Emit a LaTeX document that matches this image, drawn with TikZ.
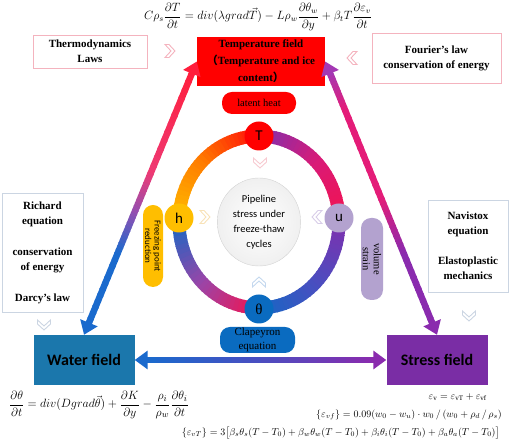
\documentclass[tikz,border=0pt]{standalone}
\usepackage{fontspec}
\setmainfont{Liberation Serif}
\setsansfont{Carlito}
\newfontfamily\cjk{Noto Sans CJK SC}
\usepackage{amsmath}
\usetikzlibrary{
  positioning,
  arrows.meta,
  calc,
  shapes.geometric
}
\definecolor{tempred}{HTML}{FF0000}
\definecolor{waterblue}{HTML}{1B77AC}
\definecolor{stresspurple}{HTML}{7A2DA5}
\definecolor{ballgold}{HTML}{FFBE00}
\definecolor{balllilac}{HTML}{B3A2CF}
\definecolor{ballblue}{HTML}{0A6BC0}
\definecolor{lawpink}{HTML}{F4B3BE}
\definecolor{lawgrey}{HTML}{CBD5E2}
\definecolor{ringred}{HTML}{FF0A0A}
\definecolor{ringorange}{HTML}{FF7A00}
\definecolor{ringpink}{HTML}{F5124E}
\definecolor{ringmagenta}{HTML}{D81B78}
\definecolor{ringpurple}{HTML}{7E30AE}
\definecolor{ringviolet}{HTML}{9A45A8}
\definecolor{ringindigo}{HTML}{4A4EC0}
\definecolor{ringblue}{HTML}{1668C4}
\definecolor{arrowred}{HTML}{FF1E3C}
\definecolor{arrowpink}{HTML}{EE3A74}
\definecolor{arrowviolet}{HTML}{9250B2}
\definecolor{arrowblue}{HTML}{1A6ACD}
\definecolor{arrowmagenta}{HTML}{E41C78}
\definecolor{arrowplum}{HTML}{A438B4}
\definecolor{arrowpurple}{HTML}{8A2BAE}
\definecolor{hintyellow}{HTML}{F8E2B8}
\definecolor{hintlilac}{HTML}{D8CDE8}
\definecolor{hintblue}{HTML}{C4D8EE}

% shaft of a colour-graded arrow: from, to, width, stops
\newcommand{\gradshaft}[4]{%
  \foreach \s/\e/\ca/\cb in {#4} {
    \foreach \k in {0,...,11} {
      \pgfmathsetmacro\ta{\s+(\e-\s)*\k/12}
      \pgfmathsetmacro\tb{\s+(\e-\s)*(\k+1.25)/12}
      \pgfmathtruncatemacro\p{100-(\k+0.5)*100/12}
      \draw[line width=#3, \ca!\p!\cb] ($(#1)!\ta!(#2)$) -- ($(#1)!\tb!(#2)$);
    }
  }
}

\begin{document}
\begin{tikzpicture}[
  x=1pt, y=1pt,
  lawbox/.style={draw, fill=white, line width=0.8pt, align=center,
                 font=\bfseries\fontsize{11}{15}\selectfont},
  fieldbox/.style={minimum width=101, minimum height=50, inner sep=0pt,
                   font=\sffamily\bfseries\fontsize{16}{16}\selectfont},
  ball/.style={circle, minimum size=29, inner sep=0pt,
               font=\sffamily\fontsize{15}{15}\selectfont},
  pill/.style={rounded corners=10pt, inner sep=0pt, align=center},
  bigtip/.style={line width=6pt, -{Triangle[length=13pt,width=18pt]}},
  chev/.pic={\draw[line width=0.9pt, line join=miter]
     (-5,6.5) -- (-1,6.5) -- (5,0) -- (-1,-6.5) -- (-5,-6.5) -- (1,0) -- cycle;},
]
  \useasboundingbox (0,0) rectangle (512,444);

  % ring
  \coordinate (ring) at (259,222);
  \foreach \sa/\ea/\ca/\cb in {0/45/ringpink/ringmagenta, 45/90/ringmagenta/ringpurple,
      90/135/ringred/ringorange, 135/180/ringorange/ballgold,
      180/225/ringblue/ringviolet, 225/270/ringviolet/ringpink,
      270/315/ringblue/ringindigo, 315/360/ringindigo/ringpurple} {
    \foreach \k in {0,...,14} {
      \pgfmathsetmacro\aa{\sa+(\ea-\sa)*\k/15}
      \pgfmathsetmacro\ab{\sa+(\ea-\sa)*(\k+1.3)/15}
      \pgfmathtruncatemacro\p{100-(\k+0.5)*100/15}
      \draw[line width=13pt, \ca!\p!\cb] (ring) ++(\aa:80 and 86)
        arc[start angle=\aa, end angle=\ab, x radius=80, y radius=86];
    }
  }
  \node[ellipse, draw=gray!35, inner color=white, outer color=gray!12,
        minimum width=80, minimum height=88, align=center,
        font=\sffamily\fontsize{10.5}{15}\selectfont] (core) at (ring)
        {Pipeline\\stress under\\freeze-thaw\\cycles};

  \node[ball, fill=tempred] (T) at (259,308) {T};
  \node[ball, fill=ballgold] (h) at (179,226) {h};
  \node[ball, fill=balllilac] (u) at (339,226) {u};
  \node[ball, fill=ballblue, font=\fontsize{15}{15}\selectfont] (theta) at (259,135) {θ};

  \node[pill, fill=tempred, minimum width=74, minimum height=22,
        font=\fontsize{10.5}{12}\selectfont] (latent) at (259,341) {latent heat};
  \node[pill, fill=ballgold, rotate=-90, minimum width=82, minimum height=20,
        font=\sffamily\fontsize{9}{9.5}\selectfont] (freeze) at (153,198)
        {Freezing point\\reduction};
  \node[pill, fill=balllilac, rotate=-90, minimum width=82, minimum height=22,
        font=\fontsize{10.5}{11}\selectfont] (volume) at (372,185) {volume\\strain};
  \node[pill, fill=ballblue, minimum width=75, minimum height=26,
        font=\fontsize{11}{14}\selectfont] (clapeyron) at (257.5,104)
        {Clapeyron\\equation};

  % fields
  \node[fill=tempred, minimum width=128, minimum height=49, inner sep=0pt,
        align=center, font=\bfseries\fontsize{11}{17}\selectfont] (temp) at (261,382.5)
        {Temperature field\\{\cjk （}Temperature and ice\\content{\cjk ）}};
  \node[fieldbox, fill=waterblue] (water) at (84,84) {Water field};
  \node[fieldbox, fill=stresspurple] (stress) at (437,84) {Stress field};

  % laws
  \node[lawbox, draw=lawpink, minimum width=114, minimum height=33] (thermo)
        at (90,392.5) {Thermodynamics\\Laws};
  \node[lawbox, draw=lawpink, minimum width=129, minimum height=50] (fourier)
        at (436.5,386) {Fourier's law\\conservation of energy};
  \node[lawbox, draw=lawgrey, minimum width=81, minimum height=119] (richard)
        at (42.5,191.5) {Richard\\equation\\[16pt]conservation\\of energy\\[16pt]Darcy's law};
  \node[lawbox, draw=lawgrey, minimum width=80, minimum height=92] (navistox)
        at (468,198) {Navistox\\equation\\[15pt]Elastoplastic\\mechanics};

  % chevrons
  \pic[color=lawpink] at (170,393) {chev};
  \pic[color=lawpink, rotate=180] at (352,386) {chev};
  \pic[color=lawpink!70, rotate=-90] at (260,281) {chev};
  \pic[color=hintyellow] at (205,227) {chev};
  \pic[color=hintlilac, rotate=180] at (317,227) {chev};
  \pic[color=hintblue, rotate=90] at (259,162) {chev};
  \pic[color=lawgrey, rotate=-90] at (44,119) {chev};
  \pic[color=lawgrey, rotate=-90] at (469,128) {chev};

  % arrows
  \coordinate (la) at ($(temp.west)!12pt!(water.north)$);
  \coordinate (lb) at ($(water.north)!12pt!(temp.west)$);
  \gradshaft{la}{lb}{6.5pt}{0/0.4/arrowred/arrowpink, 0.4/0.56/arrowpink/arrowviolet,
      0.56/0.72/arrowviolet/arrowblue, 0.72/1/arrowblue/arrowblue}
  \draw[bigtip, arrowred] ($(temp.west)!15pt!(water.north)$) -- (temp.west);
  \draw[bigtip, arrowblue] ($(water.north)!15pt!(temp.west)$) -- (water.north);

  \coordinate (ra) at ($(temp.east)!12pt!(stress.north)$);
  \coordinate (rb) at ($(stress.north)!12pt!(temp.east)$);
  \gradshaft{ra}{rb}{6.5pt}{0/0.15/arrowplum/arrowmagenta, 0.15/0.5/arrowmagenta/arrowmagenta,
      0.5/0.72/arrowmagenta/arrowpurple, 0.72/1/arrowpurple/arrowpurple}
  \draw[bigtip, arrowplum] ($(temp.east)!15pt!(stress.north)$) -- (temp.east);
  \draw[bigtip, arrowpurple] ($(stress.north)!15pt!(temp.east)$) -- (stress.north);

  \coordinate (ha) at ($(water.east)!12pt!(stress.west)$);
  \coordinate (hb) at ($(stress.west)!12pt!(water.east)$);
  \gradshaft{ha}{hb}{6.5pt}{0/0.5/arrowblue/ringindigo, 0.5/1/ringindigo/arrowpurple}
  \draw[bigtip, arrowblue] ($(water.east)!15pt!(stress.west)$) -- (water.east);
  \draw[bigtip, arrowpurple] ($(stress.west)!15pt!(water.east)$) -- (stress.west);

  % equations
  \node[font=\fontsize{11.8}{14}\selectfont] (eqheat) at (258,427)
    {$C\rho_s\dfrac{\partial T}{\partial t}=div(\lambda grad\vec{T})-L\rho_w\dfrac{\partial\theta_w}{\partial y}+\beta_t T\dfrac{\partial\varepsilon_v}{\partial t}$};
  \node[font=\fontsize{12.5}{14}\selectfont] (eqwater) at (99,39)
    {$\dfrac{\partial\theta}{\partial t}=div(Dgrad\vec{\theta})+\dfrac{\partial K}{\partial y}-\dfrac{\rho_i}{\rho_w}\dfrac{\partial\theta_i}{\partial t}$};
  \node[anchor=east, inner sep=0pt, font=\fontsize{10}{12}\selectfont] (eqstrain) at (487,47)
    {$\varepsilon_{\mathrm{v}}=\varepsilon_{\mathrm{vT}}+\varepsilon_{\mathrm{vf}}$};
  \node[anchor=east, inner sep=0pt, font=\fontsize{10}{12}\selectfont] (eqfrost) at (502,29)
    {$\left\{\varepsilon_{vf}\right\}=0.09(w_0-w_u)\cdot w_0\,/\,(w_0+\rho_d\,/\,\rho_s)$};
  \node[anchor=east, inner sep=0pt, font=\fontsize{10}{12}\selectfont] (eqthermal) at (500,11)
    {$\left\{\varepsilon_{vT}\right\}=3\big[\beta_s\theta_s(T-T_0)+\beta_w\theta_w(T-T_0)+\beta_i\theta_i(T-T_0)+\beta_a\theta_a(T-T_0)\big]$};
\end{tikzpicture}
\end{document}
